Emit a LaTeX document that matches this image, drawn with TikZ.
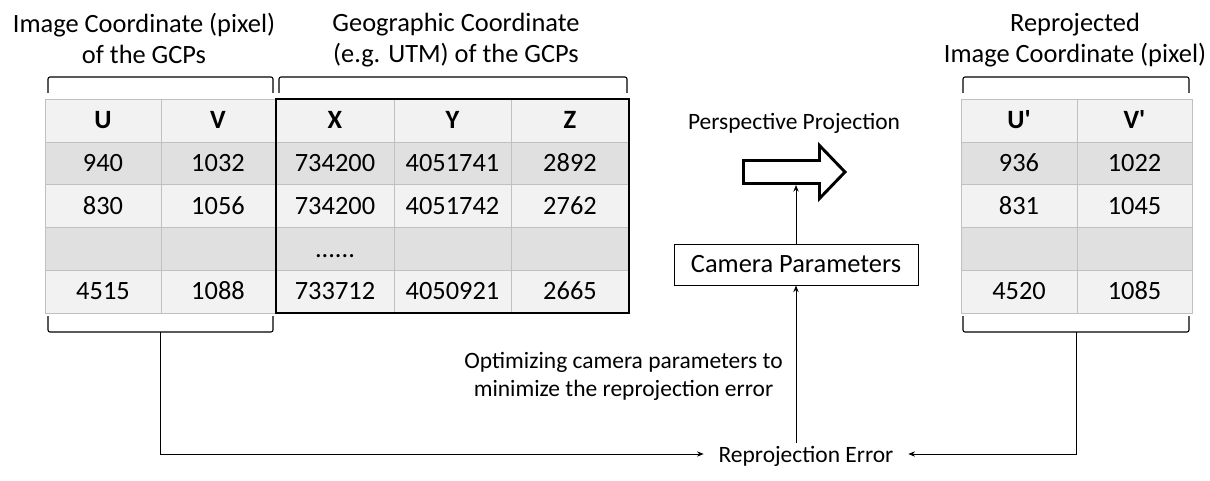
\documentclass[tikz,border=0pt]{standalone}
\usepackage{fontspec}
\setmainfont{Carlito}
\definecolor{RowLight}{RGB}{242,242,242}
\definecolor{RowDark}{RGB}{224,224,224}
\definecolor{GridLine}{RGB}{192,192,192}
\usetikzlibrary{arrows.meta,positioning,calc}

\begin{document}
\begin{tikzpicture}[x=0.75pt,y=-0.75pt,
  big/.style={font=\fontsize{19.8}{23.3}\selectfont},
  cell/.style={big,text height=12.5pt,text depth=0pt},
  head/.style={cell,font=\fontsize{19.8}{23.3}\selectfont\bfseries},
  small/.style={font=\fontsize{17.6}{21}\selectfont},
  title/.style={big,align=center,anchor=north,inner sep=0pt},
  bracket/.style={line width=0.8pt,rounded corners=1.5pt},
  link/.style={line width=0.7pt,-{Stealth[length=5pt,width=4pt]}}]
  \useasboundingbox (0,0) rectangle (1210,481);

  % table rows and grid
  \foreach \y/\c in {99/RowLight,141.8/RowDark,184.6/RowLight,227.4/RowDark,270.2/RowLight}{
    \fill[\c] (45,\y) rectangle (629,\y+42.8);
    \fill[\c] (961,\y) rectangle (1192,\y+42.8);
  }
  \foreach \y in {141.8,184.6,227.4,270.2}{
    \draw[GridLine] (45,\y) -- (629,\y);
    \draw[GridLine] (961,\y) -- (1192,\y);
  }
  \foreach \x in {161,394,511,1077} \draw[GridLine] (\x,99) -- (\x,313);
  \draw[GridLine] (45,99) rectangle (276,313);
  \draw[GridLine] (961,99) rectangle (1192,313);
  \draw[line width=2.2pt] (276,99) rectangle (629,313);

  % cell texts
  \foreach \x/\t/\n in {103/U/u,218/V/v,335/X/x,452.5/Y/y,570/Z/z,
      1019/U\textquotesingle/uu,1134.5/V\textquotesingle/vv}
    \node[head] (h\n) at (\x,120.4) {\t};
  \foreach \r/\y/\a/\b/\c/\d/\e in {1/163.2/940/1032/734200/4051741/2892,
      2/206/830/1056/734200/4051742/2762,4/291.6/4515/1088/733712/4050921/2665}{
    \node[cell] (u\r) at (103,\y) {\a};
    \node[cell] (v\r) at (218,\y) {\b};
    \node[cell] (x\r) at (335,\y) {\c};
    \node[cell] (y\r) at (452.5,\y) {\d};
    \node[cell] (z\r) at (570,\y) {\e};
  }
  \node[cell] (x3) at (335,248.8) {......};
  \foreach \r/\y/\a/\b in {1/163.2/936/1022,2/206/831/1045,4/291.6/4520/1085}{
    \node[cell] (uu\r) at (1019,\y) {\a};
    \node[cell] (vv\r) at (1134.5,\y) {\b};
  }

  % captions and brackets
  \node[title] (capimg) at (144,13) {Image Coordinate (pixel)\\of the GCPs};
  \node[title] (capgeo) at (456,13) {Geographic Coordinate\\(e.g. UTM) of the GCPs};
  \node[title] (capre) at (1075,13) {Reprojected\\Image Coordinate (pixel)};
  \draw[bracket] (48,93) -- (48,77) -- (273,77) -- (273,93);
  \draw[bracket] (279,93) -- (279,77) -- (627,77) -- (627,93);
  \draw[bracket] (963,93) -- (963,77) -- (1189,77) -- (1189,93);
  \draw[bracket] (48,316) -- (48,332) -- (273,332) -- (273,316);
  \draw[bracket] (963,316) -- (963,332) -- (1189,332) -- (1189,316);
  \coordinate (lstem) at (160.5,332);
  \coordinate (rstem) at (1076,332);

  % projection and optimisation
  \node[small,anchor=base] (proj) at (794,130) {Perspective Projection};
  \draw[line width=2.2pt] (743.5,160.5) -- (819.5,160.5) -- (819.5,145.5) -- (845,172)
    -- (819.5,198.5) -- (819.5,183.5) -- (743.5,183.5) -- cycle;
  \coordinate (shaft) at (796,185);
  \node[big,draw,line width=0.75pt,minimum width=183pt,minimum height=30.75pt,inner sep=0pt]
    (cam) at (796,264.5) {Camera Parameters};
  \node[small,align=center,anchor=north,inner sep=0pt] (opt) at (623.5,352)
    {Optimizing camera parameters to\\minimize the reprojection error};
  \node[small,text depth=0pt,inner xsep=11pt,inner ysep=2pt] (err) at (806,454) {Reprojection Error};

  \draw[link] (cam.north) -- (shaft);
  \draw[link] (err.north -| cam.south) -- (cam.south);
  \draw[link] (lstem) |- (err.west);
  \draw[link] (rstem) |- (err.east);
\end{tikzpicture}
\end{document}
